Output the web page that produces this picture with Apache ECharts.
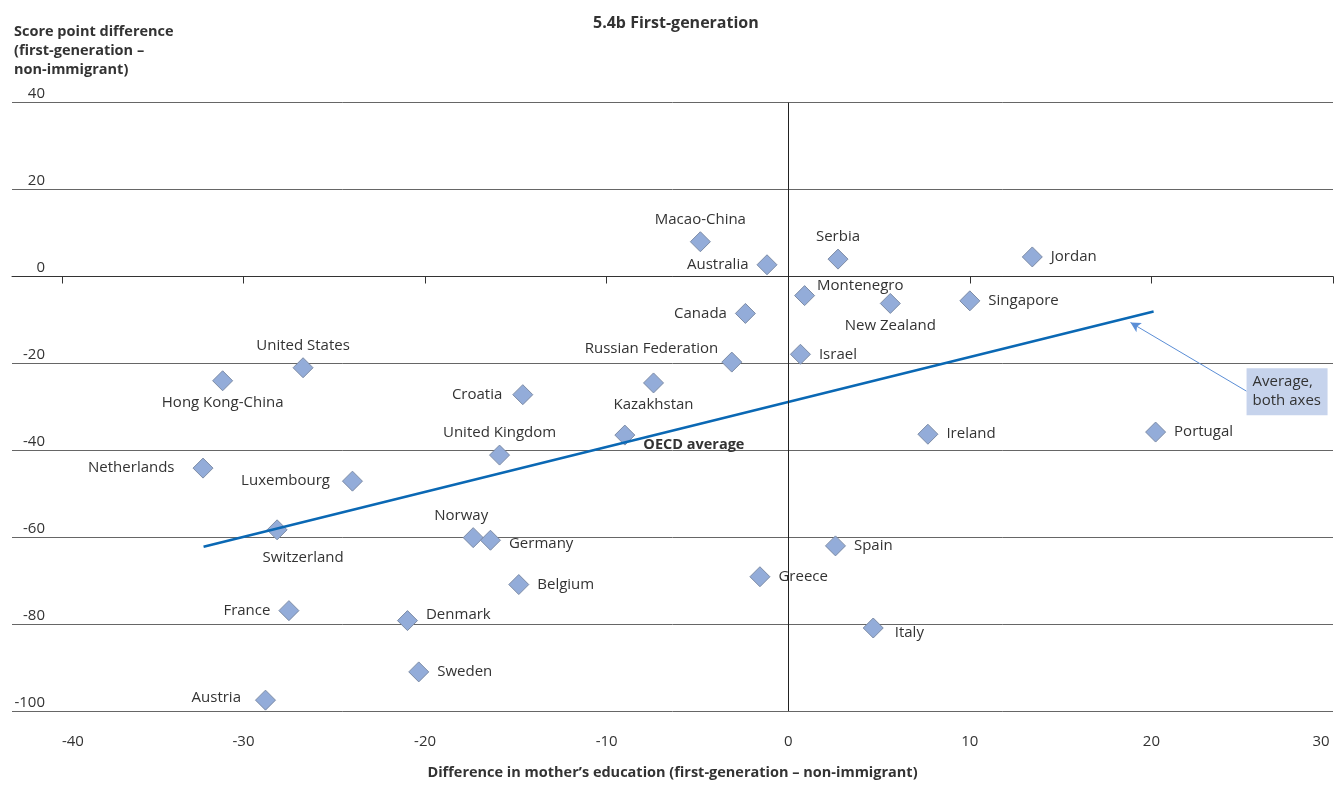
<!DOCTYPE html>
<html><head><meta charset="utf-8">
<script src="https://cdn.jsdelivr.net/npm/echarts@6/dist/echarts.min.js"></script>
<style>html,body{margin:0;padding:0;background:#fff}#c{width:1334px;height:785px}</style>
</head><body><div id="c"></div>
<script>
// ---- data ----
const countries = ['Macao-China','Australia','Serbia','Jordan','Montenegro','New Zealand','Singapore','Canada',
  'Russian Federation','Israel','Kazakhstan','OECD average','Ireland','Portugal','United States','Hong Kong-China',
  'Croatia','United Kingdom','Netherlands','Luxembourg','Switzerland','Norway','Germany','Belgium','France',
  'Denmark','Sweden','Austria','Spain','Greece','Italy'];
const motherEduDiff = [-4.84,-1.17,2.74,13.44,0.9,5.62,10.0,-2.36,
  -3.11,0.67,-7.42,-9.0,7.69,20.23,-26.72,-31.15,
  -14.62,-15.9,-32.23,-24.0,-28.15,-17.35,-16.4,-14.84,-27.5,
  -20.97,-20.35,-28.79,2.6,-1.56,4.68];
const scoreDiff = [8.0,2.7,4.0,4.5,-4.4,-6.2,-5.6,-8.5,
  -19.7,-17.9,-24.5,-36.5,-36.3,-35.8,-21.0,-24.0,
  -27.2,-41.1,-44.1,-47.1,-58.3,-60.1,-60.7,-70.9,-76.9,
  -79.2,-91.0,-97.5,-62.0,-69.1,-80.9];
const trendX = [-32.2, 20.12];
const trendY = [-62.2, -8.07];
const xTicks = [-40,-30,-20,-10,0,10,20,30];
const yMin = -100, yMax = 40, yStep = 20;
const annotText = 'Average,\nboth axes';
const annotBox = [27.47, -26.5];
const arrowFrom = [25.24, -26.4];
const arrowTo = [18.85, -10.6];

// ---- label placement (style, not data) ----
const F = "'Open Sans', 'DejaVu Sans', sans-serif";
const TXT = '#333';
const FS = 15;
const place = {
  'Macao-China':['top'], 'Australia':['left'], 'Serbia':['top'], 'Jordan':['right'],
  'Montenegro':['right',[-6,-10]], 'New Zealand':['bottom'], 'Singapore':['right'], 'Canada':['left'],
  'Russian Federation':['left',[5,-13]], 'Israel':['right'], 'Kazakhstan':['bottom'],
  'OECD average':['right',[0,10]], 'Ireland':['right'], 'Portugal':['right'],
  'United States':['top'], 'Hong Kong-China':['bottom'], 'Croatia':['left',[-2,0]],
  'United Kingdom':['top'], 'Netherlands':['left',[-10,0]], 'Luxembourg':['left',[-4,0]],
  'Switzerland':['bottom',[26,6]], 'Norway':['top',[-12,0]], 'Germany':['right',[0,3]],
  'Belgium':['right'], 'France':['left'], 'Denmark':['right',[0,-6]], 'Sweden':['right'],
  'Austria':['left',[-6,-2]], 'Spain':['right'], 'Greece':['right'], 'Italy':['right',[3,5]]
};

const pts = countries.map((n,i)=>{
  const p = place[n] || ['right'];
  const vert = p[0]==='top'||p[0]==='bottom';
  const bold = n==='OECD average';
  return {
    name:n, value:[motherEduDiff[i], scoreDiff[i]],
    label:{show:true, position:p[0], offset:p[1]||[0,0], distance: vert?4:8,
      fontWeight: bold?'bold':'normal', fontSize: bold?14.5:FS}
  };
});

const chart = echarts.init(document.getElementById('c'), null, {renderer:'canvas'});
chart.setOption({
  animation:false,
  backgroundColor:'#fff',
  textStyle:{fontFamily:F},
  title:{text:'5.4b First-generation', left:588, top:10,
    textStyle:{fontFamily:F, fontSize:16, fontWeight:'bold', color:TXT}},
  graphic:[{type:'text', left:14, top:22,
    style:{text:'Score point difference\n(first-generation –\nnon-immigrant)', font:"bold 14.5px "+F,
      lineHeight:19.3, fill:TXT}}],
  grid:{left:12, right:1, top:102.7, bottom:70.7, containLabel:false},
  xAxis:[
    {type:'value', min:-42.75, max:30, position:'bottom',
     axisLine:{show:false, onZero:false}, axisTick:{show:false}, splitLine:{show:false},
     axisLabel:{customValues:xTicks, margin:23, color:TXT, fontSize:FS, fontFamily:F,
       formatter:v=> v===xTicks[0] ? '{l|'+v+'}' : (v===xTicks[xTicks.length-1] ? '{r|'+v+'}' : String(v)),
       rich:{l:{padding:[0,0,0,22], fontSize:FS, color:TXT, fontFamily:F},
             r:{padding:[0,24,0,0], fontSize:FS, color:TXT, fontFamily:F}}},
     name:'Difference in mother’s education (first-generation – non-immigrant)',
     nameLocation:'middle', nameGap:54,
     nameTextStyle:{fontWeight:'bold', fontSize:14.5, color:TXT, fontFamily:F}},
    {type:'value', min:-42.75, max:30, position:'bottom',
     axisLine:{show:true, onZero:true, lineStyle:{color:'#333', width:1}},
     axisTick:{show:true, customValues:xTicks, length:7, lineStyle:{color:'#333'}},
     axisLabel:{show:false}, splitLine:{show:false}}
  ],
  yAxis:{type:'value', min:yMin, max:yMax, interval:yStep,
    axisLine:{show:false}, axisTick:{show:false},
    splitLine:{lineStyle:{color:'#666', width:1}},
    axisLabel:{inside:true, align:'right', margin:33, verticalAlign:'bottom', padding:[0,0,1,0],
      color:TXT, fontSize:FS, fontFamily:F}},
  series:[
    {type:'scatter', xAxisIndex:0, symbol:'diamond', symbolSize:20, z:3,
     itemStyle:{color:'#93acd9', borderColor:'#7d8ca6', borderWidth:1, opacity:1},
     label:{formatter:'{b}', color:TXT, fontSize:FS, fontFamily:F},
     data:pts,
     markLine:{silent:true, symbol:'none', label:{show:false},
       lineStyle:{color:'#222', width:1, type:'solid'}, data:[{xAxis:0}]}},
    {type:'line', xAxisIndex:0, showSymbol:false, symbol:'none', z:4,
     lineStyle:{color:'#0a68b4', width:2.5},
     data: trendX.map((x,i)=>[x, trendY[i]]),
     markLine:{silent:true, symbol:['none','arrow'], symbolSize:[8,10], label:{show:false},
       lineStyle:{color:'#5b8ed6', width:1, type:'solid'},
       data:[[{coord:arrowFrom},{coord:arrowTo}]]},
     markPoint:{silent:true,
       data:[{coord:annotBox, symbol:'rect', symbolSize:[81,47],
         itemStyle:{color:'#c6d3ec'},
         label:{show:true, position:'insideLeft', distance:6, formatter:annotText,
           color:TXT, fontSize:FS, lineHeight:19, fontFamily:F, align:'left'}}]}}
  ]
});
</script></body></html>
